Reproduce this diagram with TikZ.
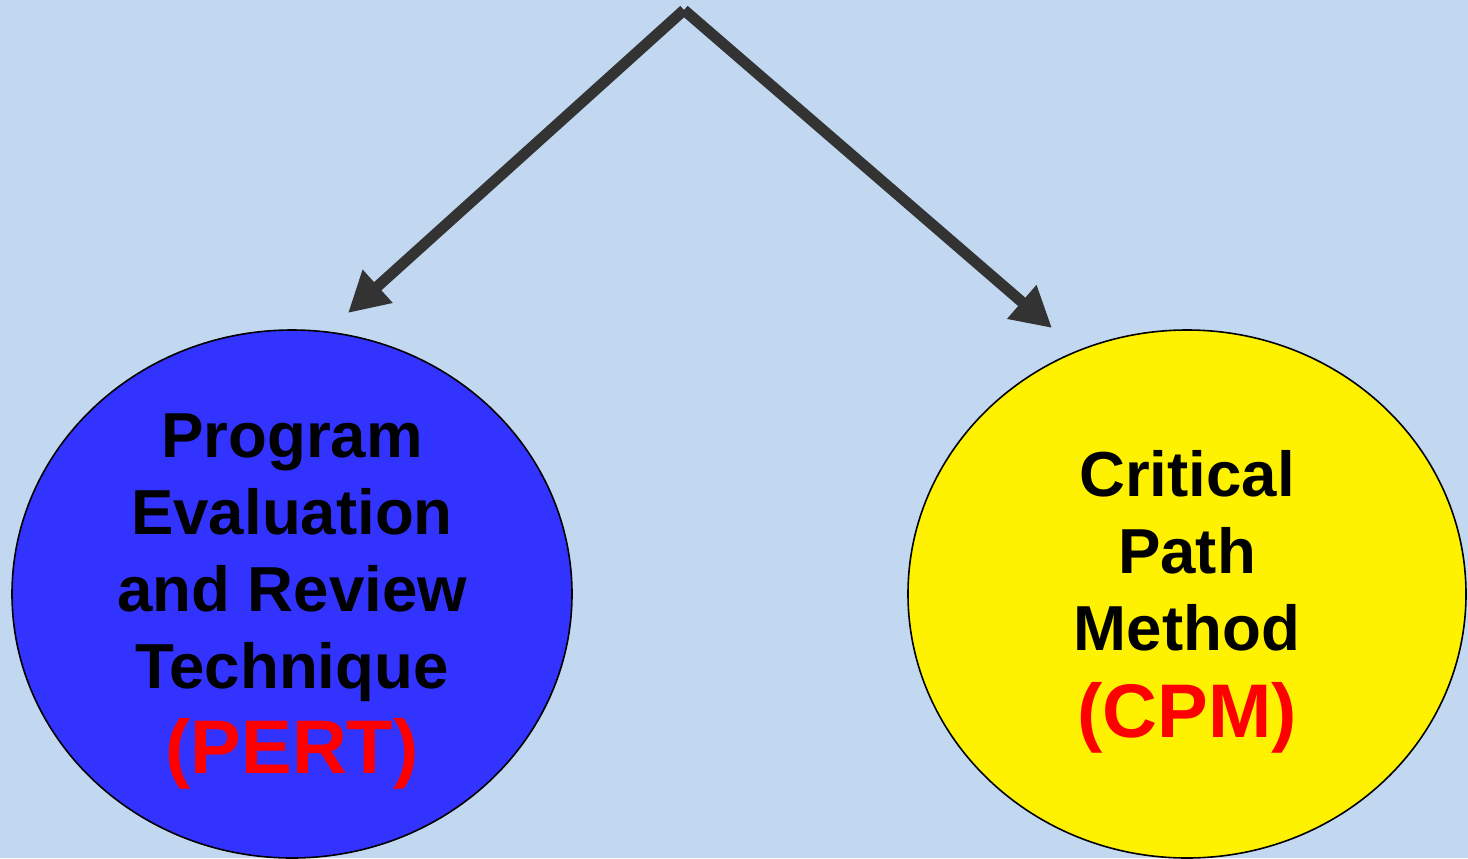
\documentclass[tikz,border=0pt]{standalone}
\usepackage{fontspec}
\setmainfont{Liberation Sans}
\usetikzlibrary{arrows.meta,shapes.geometric}
\definecolor{bgblue}{RGB}{194,216,240}
\definecolor{pertblue}{RGB}{51,51,255}
\definecolor{arrowgray}{RGB}{51,51,51}
\begin{document}
\begin{tikzpicture}[x=0.5pt,y=-0.5pt]
\tikzstyle{every node}=[inner sep=0pt]
\tikzstyle{oval}=[ellipse, draw=black, line width=0.8pt]
\tikzstyle{label}=[align=center, font=\bfseries\fontsize{31.8}{38.5}\selectfont]
\tikzstyle{branch}=[draw=arrowgray, line width=5.5pt, -{Triangle[length=20pt,width=21pt]}]
\fill[bgblue] (0,0) rectangle (1468,858);
\useasboundingbox (0,0) rectangle (1468,858);
\clip (0,0) rectangle (1468,858);
% the two methods
\draw (292,594) node (pert) [oval, fill=pertblue, minimum width=280pt, minimum height=264pt] {};
\draw (1187,594) node (cpm) [oval, fill=yellow, minimum width=279pt, minimum height=264pt] {};
\draw (292,601) node (pertt) [label] {Program\\Evaluation\\and Review\\Technique\\[4pt]{\color{red}\fontsize{38}{44}\selectfont(PERT)}};
\draw (1187,602) node (cpmt) [label] {Critical\\Path\\Method\\[5pt]{\color{red}\fontsize{38}{44}\selectfont(CPM)}};
% arrows
\coordinate (top) at (684,10);
\coordinate (pertin) at (348,313);
\coordinate (cpmin) at (1052,328);
\draw[branch] (top) -- (pertin);
\draw[branch] (top) -- (cpmin);
\end{tikzpicture}
\end{document}
